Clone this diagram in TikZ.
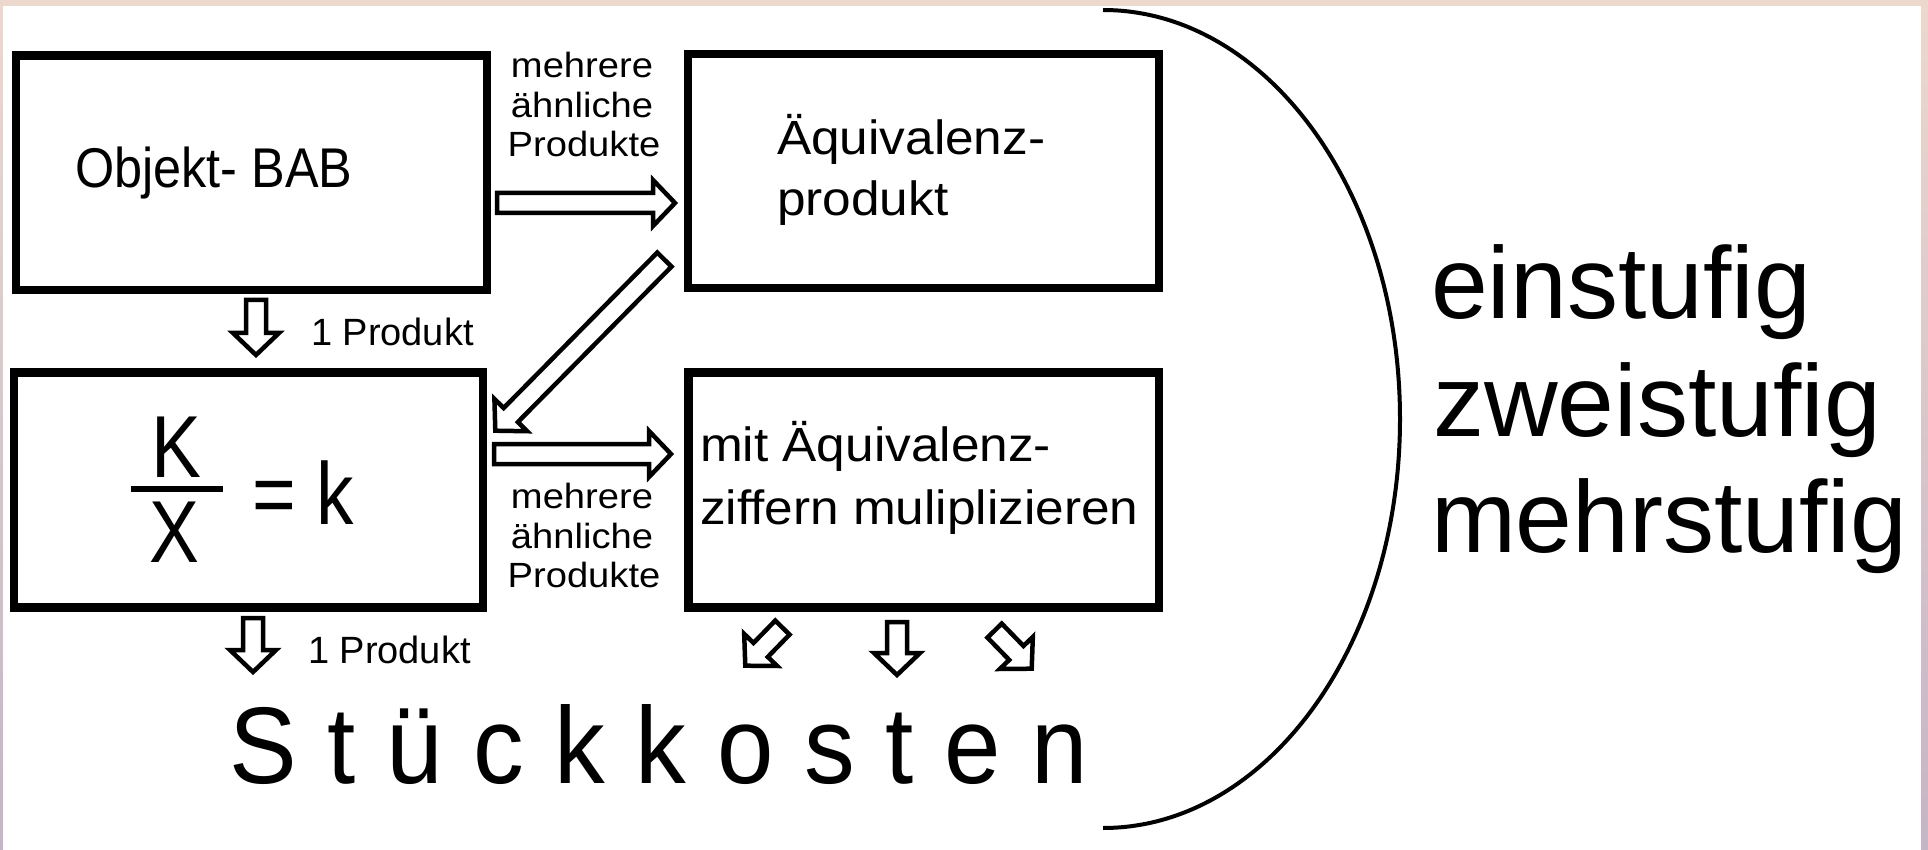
\documentclass[tikz,border=0pt]{standalone}
\usepackage{fontspec}
\setmainfont{Liberation Sans}
\usetikzlibrary{calc}

\definecolor{framePeach}{RGB}{236,216,204}
\definecolor{frameLilac}{RGB}{198,180,200}

% hollow block arrow between two named coordinates
\def\arrShaft{10pt}
\def\arrWing{23pt}
\def\arrHead{22pt}
\newcommand\blockarrow[2]{%
  \path ($(#2)!\arrHead!(#1)$) coordinate (#1-#2-b);
  \draw[blockarr] ($(#1)!\arrShaft!90:(#2)$)
    -- ($(#1-#2-b)!\arrShaft!90:(#2)$)
    -- ($(#1-#2-b)!\arrWing!90:(#2)$)
    -- (#2)
    -- ($(#1-#2-b)!\arrWing!-90:(#2)$)
    -- ($(#1-#2-b)!\arrShaft!-90:(#2)$)
    -- ($(#1)!\arrShaft!-90:(#2)$) -- cycle;
}

\begin{document}
\begin{tikzpicture}[x=1pt,y=-1pt,
  box/.style={draw=black, line width=8.5pt, inner sep=0pt, outer sep=0pt},
  blockarr/.style={draw=black, fill=white, line width=4.5pt, line join=miter, miter limit=10},
  txt/.style={inner sep=0pt, outer sep=0pt, anchor=base west},
  boxtext/.style={txt, font=\fontsize{48}{62}\selectfont, xscale=1.07},
  lbl/.style={inner sep=0pt, outer sep=0pt, anchor=base, font=\fontsize{35}{40}\selectfont, xscale=1.09},
  onep/.style={txt, font=\fontsize{38}{44}\selectfont},
  frac/.style={inner sep=0pt, outer sep=0pt, anchor=base, font=\fontsize{88}{96}\selectfont, xscale=0.85},
  level/.style={txt, font=\fontsize{102}{117}\selectfont}
]
\useasboundingbox (0,0) rectangle (1928,850);

% slide frame
\fill[top color=framePeach, bottom color=frameLilac] (0,0) rectangle (1928,850);
\fill[white] (3,6) rectangle (1921,850);

% the four boxes
\node[box, minimum width=471pt, minimum height=234.5pt] (objbab) at (251.5,172.75) {};
\node[box, minimum width=471pt, minimum height=234pt] (aeqprod) at (923.5,171) {};
\node[box, minimum width=469pt, minimum height=235pt] (kxbox) at (248.5,490) {};
\node[box, minimum width=470.5pt, minimum height=235pt] (zifbox) at (923.75,490) {};

% box texts
\node[txt, font=\fontsize{56}{62}\selectfont, xscale=0.9] (tobj) at (75,188) {Objekt- BAB};
\node[boxtext] (taeq1) at (777,155) {Äquivalenz-};
\node[boxtext] (taeq2) at (777,216) {produkt};
\node[boxtext] (tmit1) at (700,461) {mit Äquivalenz-};
\node[boxtext] (tmit2) at (700,524) {ziffern muliplizieren};

% K / X = k
\node[frac] (fk) at (176,477) {K};
\node[frac] (fx) at (174,562) {X};
\coordinate (barL) at (131,489);
\coordinate (barR) at (223,489);
\draw[line width=6pt] (barL) -- (barR);
\node[frac, anchor=base west] (feq) at (252,524) {= k};

% arrow labels
\node[lbl] (m1a) at (582,78) {mehrere};
\node[lbl] (m1b) at (582,117.5) {ähnliche};
\node[lbl] (m1c) at (584,157) {Produkte};
\node[lbl] (m2a) at (582,508) {mehrere};
\node[lbl] (m2b) at (582,548) {ähnliche};
\node[lbl] (m2c) at (584,587) {Produkte};
\node[onep] (p1) at (311,345) {1 Produkt};
\node[onep] (p2) at (308,663) {1 Produkt};

% block arrows
\coordinate (aA1) at (497,203);   \coordinate (aA2) at (675,203);
\coordinate (aB1) at (256,300);   \coordinate (aB2) at (256,355);
\coordinate (aC1) at (253,618);   \coordinate (aC2) at (253,672);
\coordinate (aD1) at (664.4,259.6); \coordinate (aD2) at (495.3,430.7);
\coordinate (aE1) at (494,454);   \coordinate (aE2) at (671,454);
\coordinate (aF1) at (782.4,627.6); \coordinate (aF2) at (745.3,665.7);
\coordinate (aG1) at (897,622);   \coordinate (aG2) at (897,675);
\coordinate (aH1) at (994.6,630.6); \coordinate (aH2) at (1031.7,668.7);
\blockarrow{aA1}{aA2}
\blockarrow{aB1}{aB2}
\blockarrow{aC1}{aC2}
\blockarrow{aD1}{aD2}
\blockarrow{aE1}{aE2}
\blockarrow{aF1}{aF2}
\blockarrow{aG1}{aG2}
\blockarrow{aH1}{aH2}

% result
\node[txt, font=\fontsize{109}{120}\selectfont, xscale=0.93] (stk) at (229,783)
  {S\kern33pt t\kern33pt ü\kern33pt c\kern33pt k\kern33pt k\kern33pt o\kern33pt s\kern33pt t\kern33pt e\kern33pt n};

% bracket and levels
\coordinate (arcTop) at (1103,10);
\draw[line width=4pt] (arcTop) arc[start angle=-90, end angle=90, x radius=297, y radius=409];
\node[level] (l1) at (1431,319) {einstufig};
\node[level] (l2) at (1433,436) {zweistufig};
\node[level] (l3) at (1431,552) {mehrstufig};
\end{tikzpicture}
\end{document}
